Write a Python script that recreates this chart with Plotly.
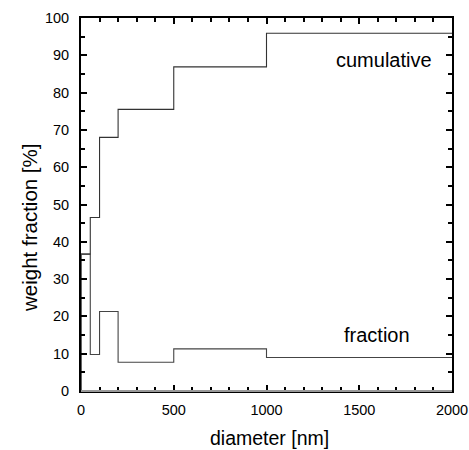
import plotly.graph_objects as go

# bin edges [nm] and values [%]
edges = [0, 50, 100, 200, 500, 1000, 2000]
fraction = [36.7, 9.8, 21.3, 7.7, 11.3, 9.0]
cumulative = [36.7, 46.5, 68.0, 75.5, 86.9, 95.9]
first_fraction = 15.0  # narrow first bin at the origin
x_ticks = [0, 500, 1000, 1500, 2000]
y_ticks = [0, 10, 20, 30, 40, 50, 60, 70, 80, 90, 100]


def steps(edges, vals):
    xs, ys = [edges[0]], [0]
    for i, v in enumerate(vals):
        xs += [edges[i], edges[i + 1]]
        ys += [v, v]
    return xs, ys


fig = go.Figure()
xc, yc = steps(edges, cumulative)
xf, yf = steps(edges, fraction)
fig.add_trace(go.Scatter(x=[edges[0], edges[0] + 5], y=[first_fraction, first_fraction],
                         mode="lines", line=dict(color="#222", width=1.5), showlegend=False))
fig.add_trace(go.Scatter(x=xc, y=yc, mode="lines", line=dict(color="#333", width=1.1), showlegend=False))
fig.add_trace(go.Scatter(x=xf, y=yf, mode="lines", line=dict(color="#444", width=1.1), showlegend=False))

font = dict(family="Liberation Sans, Arial, sans-serif", color="black")
fig.update_layout(
    width=469, height=450,
    margin=dict(l=81, r=17, t=18, b=59, autoexpand=False),
    plot_bgcolor="white", paper_bgcolor="white",
    font=font,
    xaxis=dict(range=[0, 2000], tickvals=x_ticks, automargin=False,
               ticks="inside", ticklen=6, tickwidth=1.5, tickcolor="black",
               minor=dict(dtick=100, ticks="inside", ticklen=4, tickcolor="black"),
               showline=True, linecolor="black", linewidth=1.5, mirror="allticks",
               showgrid=False, zeroline=False, tickfont=dict(size=14.5),
               ticklabelstandoff=5),
    yaxis=dict(range=[0, 100], tickvals=y_ticks, automargin=False,
               ticks="inside", ticklen=6, tickwidth=1.5, tickcolor="black",
               minor=dict(dtick=5, ticks="inside", ticklen=4, tickcolor="black"),
               showline=True, linecolor="black", linewidth=2, mirror="allticks",
               showgrid=False, zeroline=False, tickfont=dict(size=14.5),
               ticklabelstandoff=7),
    shapes=[dict(type="line", xref="x", yref="paper", x0=0, x1=2000, y0=0, y1=0,
                 line=dict(color="#999", width=2), layer="above")],
    annotations=[
        dict(x=1905, y=88.7, text="cumulative", showarrow=False, xanchor="right",
             yanchor="middle", font=dict(size=20)),
        dict(x=1785, y=15, text="fraction", showarrow=False, xanchor="right",
             yanchor="middle", font=dict(size=20)),
        dict(x=269, y=438, xref="paper", yref="paper", text="diameter [nm]",
             showarrow=False, xanchor="center", yanchor="middle", font=dict(size=19.5)),
        dict(x=30, y=228, xref="paper", yref="paper", text="weight fraction [%]",
             showarrow=False, xanchor="center", yanchor="middle", textangle=-90,
             font=dict(size=20.5)),
    ],
)

# convert pixel positions of axis-title annotations to paper coordinates
W, H = 469, 450
l, r, t, b = 81, 17, 18, 59
pw, ph = W - l - r, H - t - b
for ann in fig.layout.annotations:
    if ann.xref == "paper":
        px, py = ann.x, ann.y
        ann.x = (px - l) / pw
        ann.y = (H - b - py) / ph

fig.write_html("out.html", config={"displayModeBar": False},
               post_script="document.body.style.margin='0';document.body.style.overflow='hidden';")
